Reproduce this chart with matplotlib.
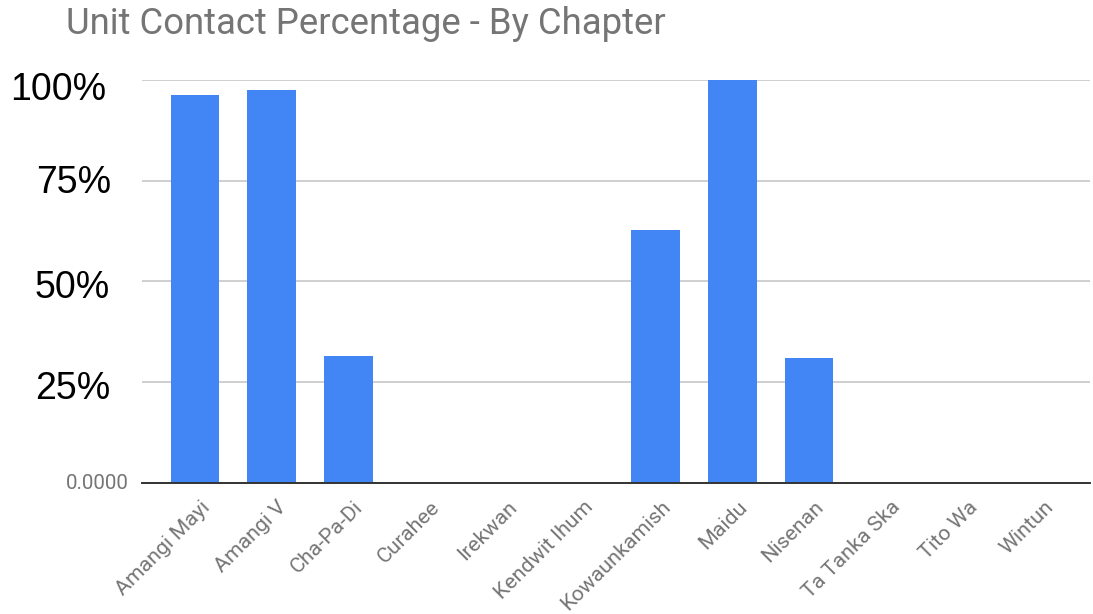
import matplotlib
matplotlib.use("Agg")
import matplotlib.pyplot as plt
import matplotlib.transforms as mtransforms

categories = ["Amangi Mayi", "Amangi V", "Cha-Pa-Di", "Curahee", "Irekwan",
              "Kendwit Ihum", "Kowaunkamish", "Maidu", "Nisenan", "Ta Tanka Ska",
              "Tito Wa", "Wintun"]
values = [0.963, 0.975, 0.314, 0, 0, 0, 0.627, 1.0, 0.309, 0, 0, 0]
ytick_vals = [0, 0.25, 0.5, 0.75, 1.0]
ytick_labels = ["0.0000", "25%", "50%", "75%", "100%"]
title = "Unit Contact Percentage - By Chapter"

DPI = 100
fig = plt.figure(figsize=(10.93, 6.14), dpi=DPI)
ax = fig.add_axes([142/1093, 1 - 482.5/614, (1090-142)/1093, (482.5-80)/614])

x = list(range(len(categories)))
ax.bar(x, values, width=0.633, color="#4285F4", zorder=3, clip_on=False)

ax.set_xlim(-0.69, 11.66)
ax.set_ylim(0, 1.0)
ax.set_yticks(ytick_vals)
ax.set_yticklabels([])
ax.tick_params(axis="y", length=0)
ax.yaxis.grid(True, color="#cccccc", linewidth=1.3, zorder=0)
ax.set_axisbelow(True)

# y labels (drawn manually to allow per-label vertical nudges like the original)
ylab_tr = mtransforms.blended_transform_factory(ax.transAxes, ax.transData)
label_dy_px = {0: -1, 0.25: -7, 0.5: -7, 0.75: -2, 1.0: -10}
label_dx_px = {0.25: -32, 0.5: -32, 0.75: -31, 1.0: -36}
for v, lab in zip(ytick_vals, ytick_labels):
    if v == 0:
        off = mtransforms.ScaledTranslation(-13/DPI, label_dy_px[v]/DPI, fig.dpi_scale_trans)
        ax.text(0, v, lab, transform=ylab_tr + off, ha="right", va="center",
                fontfamily="Roboto", fontsize=14.8, color="#757575")
    else:
        off = mtransforms.ScaledTranslation(label_dx_px[v]/DPI, label_dy_px[v]/DPI,
                                            fig.dpi_scale_trans)
        ax.text(0, v, lab, transform=ylab_tr + off, ha="right", va="center",
                fontfamily="Liberation Sans", fontsize=27, color="black")

# x labels
ax.set_xticks(x)
ax.set_xticklabels([])
ax.tick_params(axis="x", length=0)
xlab_tr = mtransforms.blended_transform_factory(ax.transData, ax.transAxes)
xoff = mtransforms.ScaledTranslation(5/DPI, -15/DPI, fig.dpi_scale_trans)
for xi, cat in zip(x, categories):
    ax.text(xi, 0, cat, transform=xlab_tr + xoff, rotation=45, ha="right", va="top",
            rotation_mode="anchor", fontfamily="Roboto", fontsize=15.4, color="#757575")

for s in ["top", "right", "left"]:
    ax.spines[s].set_visible(False)
ax.spines["bottom"].set_color("#333333")
ax.spines["bottom"].set_linewidth(1.4)
ax.spines["bottom"].set_zorder(4)

fig.text(66/1093, 1 - 33.5/614, title, fontfamily="Roboto", fontsize=26.3,
         color="#757575", ha="left", va="baseline")

fig.savefig("out.png", dpi=DPI)
